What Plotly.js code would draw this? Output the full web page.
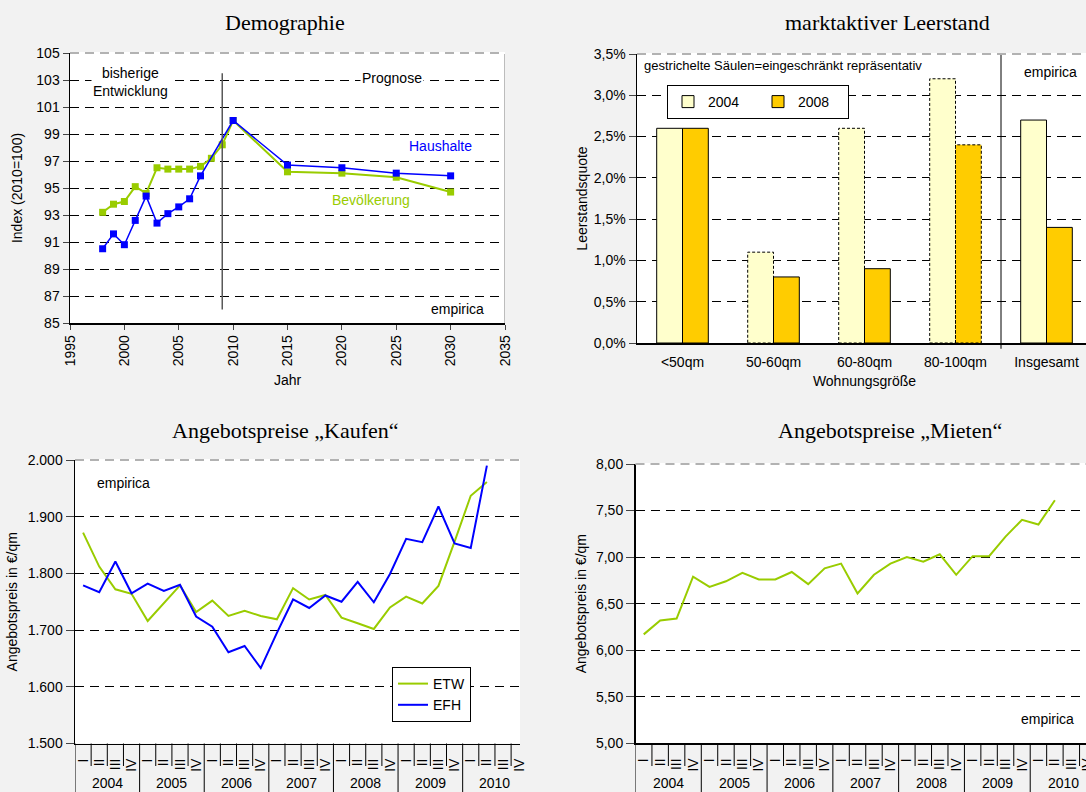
<!DOCTYPE html>
<html><head><meta charset="utf-8">
<script src="https://cdn.plot.ly/plotly-3.0.1.min.js"></script>
<style>html,body{margin:0;padding:0;background:#f2f2f2;overflow:hidden;width:1086px;height:792px}#c{width:1100px;height:792px}</style>
</head><body><div id="c"></div><script>
// ---------- Demographie ----------
const jahreBevoelkerung = [1998,1999,2000,2001,2002,2003,2004,2005,2006,2007,2008,2009,2010,2015,2020,2025,2030];
const bevoelkerung = [93.2,93.8,94.0,95.1,94.6,96.5,96.4,96.4,96.4,96.6,97.2,98.2,100,96.2,96.1,95.8,94.7];
const jahreHaushalte = [1998,1999,2000,2001,2002,2003,2004,2005,2006,2007,2010,2015,2020,2025,2030];
const haushalte = [90.5,91.6,90.8,92.6,94.4,92.4,93.1,93.6,94.2,95.9,100,96.7,96.5,96.1,95.9];
const prognoseAb = 2009;

// ---------- marktaktiver Leerstand ----------
const groessen = ['<50qm','50-60qm','60-80qm','80-100qm','Insgesamt'];
const leerstand2004 = [2.6,1.1,2.6,3.2,2.7];
const leerstand2008 = [2.6,0.8,0.9,2.4,1.4];
const eingeschraenkt2004 = [false,true,true,true,false];
const eingeschraenkt2008 = [false,false,false,true,false];

// ---------- Angebotspreise ----------
const jahre = [2004,2005,2006,2007,2008,2009,2010];
const quartale = ['I','II','III','IV'];
const kaufenETW = [1872,1812,1772,1764,1716,1747,1779,1732,1752,1725,1734,1725,1719,1774,1754,1762,1722,1712,1702,1740,1759,1747,1778,1856,1937,1961];
const kaufenEFH = [1779,1767,1821,1765,1782,1769,1780,1724,1706,1661,1672,1633,1695,1754,1739,1761,1750,1785,1749,1799,1861,1855,1918,1853,1845,1990];
const mieten = [6.17,6.32,6.34,6.79,6.68,6.74,6.83,6.76,6.76,6.84,6.71,6.88,6.93,6.61,6.81,6.93,7.00,6.95,7.03,6.81,7.01,7.01,7.22,7.40,7.35,7.61];

// ---------- styling / geometry ----------
const W = 1100, H = 792;
const px = a => a / W, py = b => 1 - b / H;
const GREEN = '#99cc00', BLUE = '#0000ff';
const SANS = 'Liberation Sans, Arial, sans-serif';
const SERIF = 'Liberation Serif, Times New Roman, serif';
const grid = {showgrid:true, gridcolor:'#000', griddash:'9px,6px', gridwidth:1};
const axLine = {showline:true, linecolor:'#000', linewidth:1.5, zeroline:false, automargin:false};

const qTicks = [], qText = [];
jahre.forEach((j, ji) => quartale.forEach((q, qi) => { qTicks.push(ji*4+qi); qText.push(q); }));
const qIndex = arr => arr.map((_, i) => i);

const traces = [
  {x:jahreBevoelkerung, y:bevoelkerung, type:'scatter', mode:'lines+markers', name:'Bevölkerung', showlegend:false,
   line:{color:GREEN, width:2}, marker:{symbol:'square', size:7, color:GREEN}, xaxis:'x', yaxis:'y'},
  {x:jahreHaushalte, y:haushalte, type:'scatter', mode:'lines+markers', name:'Haushalte', showlegend:false,
   line:{color:BLUE, width:1.5}, marker:{symbol:'square', size:7, color:BLUE}, xaxis:'x', yaxis:'y'},
  {x:qIndex(groessen), y:leerstand2004, type:'bar', name:'2004', width:0.2835, offset:-0.2835,
   marker:{color:'#ffffcc', line:{color:'#000', width:eingeschraenkt2004.map(f => f ? 0 : 1)}},
   xaxis:'x2', yaxis:'y2', legend:'legend'},
  {x:qIndex(groessen), y:leerstand2008, type:'bar', name:'2008', width:0.2835, offset:0,
   marker:{color:'#ffcc00', line:{color:'#000', width:eingeschraenkt2008.map(f => f ? 0 : 1)}},
   xaxis:'x2', yaxis:'y2', legend:'legend'},
  {x:qIndex(kaufenETW), y:kaufenETW, type:'scatter', mode:'lines', name:'ETW', line:{color:GREEN, width:2},
   xaxis:'x3', yaxis:'y3', legend:'legend2'},
  {x:qIndex(kaufenEFH), y:kaufenEFH, type:'scatter', mode:'lines', name:'EFH', line:{color:BLUE, width:2},
   xaxis:'x3', yaxis:'y3', legend:'legend2'},
  {x:qIndex(mieten), y:mieten, type:'scatter', mode:'lines', name:'Mieten', showlegend:false, line:{color:GREEN, width:2},
   xaxis:'x4', yaxis:'y4'}
];

const shapes = [
  {type:'line', xref:'x', yref:'y', x0:prognoseAb, x1:prognoseAb, y0:86, y1:103.5, line:{color:'#595959', width:1.5}},
  {type:'line', xref:'x', yref:'y domain', x0:2035, x1:2035, y0:0, y1:1, line:{color:'#a6a6a6', width:1.5}},
  {type:'line', xref:'x2', yref:'y2 domain', x0:3.5, x1:3.5, y0:-0.02, y1:1, line:{color:'#000', width:1}}
];
// light grey dashed top border of each plot area
[['x','y'],['x2','y2'],['x3','y3'],['x4','y4']].forEach(([xa, ya]) => {
  shapes.push({type:'line', xref:xa+' domain', yref:ya+' domain', x0:0, x1:1, y0:1, y1:1, line:{color:'#fff', width:2}});
  shapes.push({type:'line', xref:xa+' domain', yref:ya+' domain', x0:0, x1:1, y0:1, y1:1, line:{color:'#999', width:1.5, dash:'9px,6px'}});
});
leerstand2004.forEach((v, i) => { if (eingeschraenkt2004[i]) shapes.push({type:'rect', xref:'x2', yref:'y2', x0:i-0.2835, x1:i, y0:0, y1:v, line:{color:'#000', width:1, dash:'3px,2px'}}); });
leerstand2008.forEach((v, i) => { if (eingeschraenkt2008[i]) shapes.push({type:'rect', xref:'x2', yref:'y2', x0:i, x1:i+0.2835, y0:0, y1:v, line:{color:'#000', width:1, dash:'3px,2px'}}); });

const annotations = [];
function txt(text, x, y, opts) {
  annotations.push(Object.assign({text, x:px(x), y:py(y), xref:'paper', yref:'paper', showarrow:false,
    xanchor:'center', yanchor:'middle', font:{family:SANS, size:14, color:'#000'}}, opts || {}));
}
// titles
txt('Demographie', 285, 22, {font:{family:SERIF, size:22, color:'#000'}});
txt('marktaktiver Leerstand', 887, 22, {font:{family:SERIF, size:22, color:'#000'}});
txt('Angebotspreise „Kaufen“', 285, 430, {font:{family:SERIF, size:22, color:'#000'}});
txt('Angebotspreise „Mieten“', 890, 430, {font:{family:SERIF, size:22, color:'#000'}});
// chart 1 labels
txt('bisherige<br>Entwicklung', 130, 82, {bgcolor:'#fff'});
txt('Prognose', 392, 78, {bgcolor:'#fff'});
txt('Haushalte', 440, 146, {font:{family:SANS, size:14, color:BLUE}});
txt('Bevölkerung', 371, 200, {font:{family:SANS, size:14, color:GREEN}});
txt('empirica', 457, 309);
// chart 2 labels
txt('gestrichelte Säulen=eingeschränkt repräsentativ', 642, 65, {xanchor:'left', font:{family:SANS, size:13, color:'#000'}});
txt('empirica', 1050, 72);
// chart 3/4 labels
txt('empirica', 123, 483);
txt('empirica', 1047, 719);

// multi-level category axis for quarterly charts
function quarterAxis(xref, rangeEnd) {
  for (let k = 0; k <= jahre.length * 4; k++) {
    const b = k - 0.5;
    if (b > rangeEnd) break;
    const full = k % 4 === 0;
    shapes.push({type:'line', xref:xref, yref:'paper', x0:b, x1:b,
      y0:py(full ? 800 : 766), y1:py(xref === 'x3' ? 743.5 : 743.3), line:{color:'#000', width:1}});
  }
  jahre.forEach((j, ji) => {
    annotations.push({text:String(j), x:ji*4+1.5, y:py(783), xref:xref, yref:'paper', showarrow:false,
      xanchor:'center', yanchor:'middle', font:{family:SANS, size:14, color:'#000'}});
  });
}
const end3 = 27.05, end4 = 27.5;
quarterAxis('x3', end3);
quarterAxis('x4', end4);

const qAxis = {tickmode:'array', tickvals:qTicks, ticktext:qText, tickangle:-90, ticks:'', showgrid:false, ticklabelstandoff:8,
  tickfont:{family:SANS, size:14, color:'#000'}};

const layout = {
  width:W, height:H, margin:{l:0, r:0, t:0, b:0}, paper_bgcolor:'#f2f2f2', plot_bgcolor:'#fff',
  font:{family:SANS, size:14, color:'#000'}, separators:',.', hovermode:false,
  xaxis:Object.assign({domain:[px(70), px(505)], range:[1995, 2035], tick0:1995, dtick:5, tickangle:-90, ticks:'outside', ticklen:5,
    showgrid:false, anchor:'y', title:{text:'Jahr', standoff:10, font:{size:14}}}, axLine),
  yaxis:Object.assign({domain:[py(323), py(53)], range:[85, 105], tick0:85, dtick:2, ticks:'outside', ticklen:6, anchor:'x',
    title:{text:'Index (2010=100)', standoff:10, font:{size:14}}}, grid, axLine),
  xaxis2:Object.assign({domain:[px(637), px(1092)], range:[-0.5, 4.5], tickmode:'array', tickvals:qIndex(groessen), ticktext:groessen,
    ticks:'', showgrid:false, anchor:'y2', ticklabelstandoff:6, title:{text:'Wohnungsgröße', standoff:7, font:{size:14}}}, axLine),
  yaxis2:Object.assign({domain:[py(343), py(54)], range:[0, 3.5], tick0:0, dtick:0.5, tickformat:'.1f', ticksuffix:'%',
    ticks:'outside', ticklen:7, anchor:'x2', title:{text:'Leerstandsquote', standoff:3, font:{size:14}}}, grid, axLine),
  xaxis3:Object.assign({domain:[px(75), px(520)], range:[-0.5, end3], anchor:'y3'}, qAxis, axLine),
  yaxis3:Object.assign({domain:[py(743.5), py(460)], range:[1500, 2000], tick0:1500, dtick:100, tickformat:',d',
    ticks:'outside', ticklen:8, anchor:'x3', title:{text:'Angebotspreis in €/qm', standoff:7, font:{size:14}}}, grid, axLine),
  xaxis4:Object.assign({domain:[px(635.5), px(1096)], range:[-0.5, end4], anchor:'y4'}, qAxis, axLine),
  yaxis4:Object.assign({domain:[py(743.3), py(464)], range:[5, 8], tick0:5, dtick:0.5, tickformat:'.2f',
    ticks:'outside', ticklen:8, anchor:'x4', title:{text:'Angebotspreis in €/qm', standoff:6, font:{size:14}}}, grid, axLine),
  legend:{orientation:'h', x:px(667), y:py(85), xanchor:'left', yanchor:'top', bgcolor:'#fff', bordercolor:'#000', borderwidth:1,
    font:{family:SANS, size:14, color:'#000'}, itemwidth:30, entrywidth:45, traceorder:'normal'},
  legend2:{x:px(392), y:py(667), xanchor:'left', yanchor:'top', bgcolor:'#fff', bordercolor:'#000', borderwidth:1,
    font:{family:SANS, size:14, color:'#000'}, itemwidth:30, tracegroupgap:0},
  shapes, annotations
};

Plotly.newPlot('c', traces, layout, {displayModeBar:false, staticPlot:true});
</script></body></html>
